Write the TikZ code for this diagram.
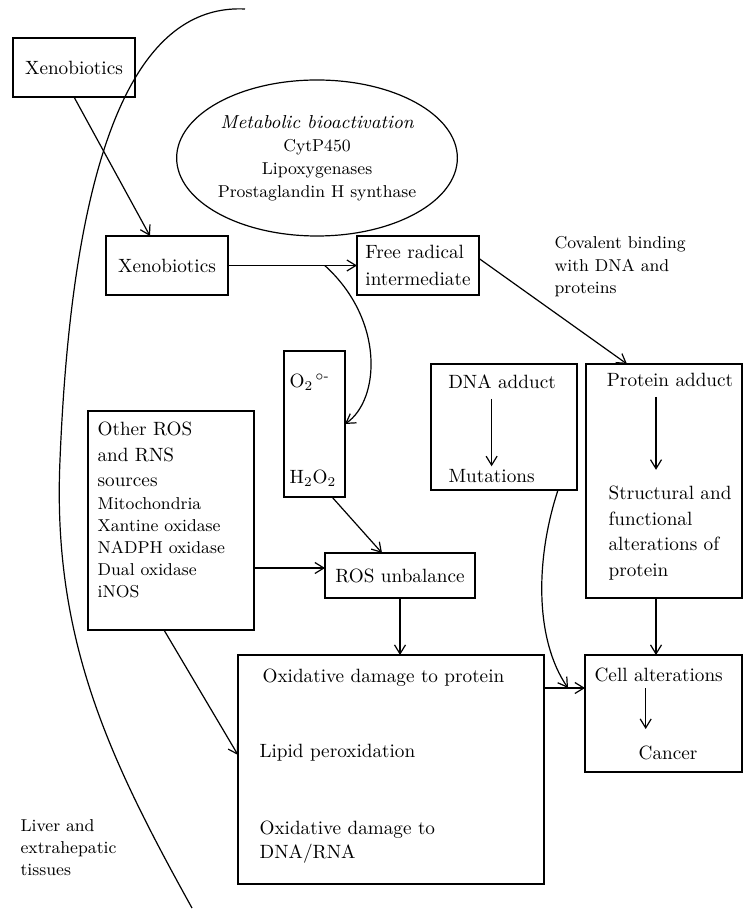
\documentclass[tikz,border=0pt]{standalone}
\usepackage{amsmath}
\usetikzlibrary{arrows.meta,calc,positioning,shapes.geometric}

\begin{document}
\begin{tikzpicture}[x=0.5pt,y=-0.5pt,>={Straight Barb[length=4.5pt,width=5.5pt]},line width=0.6pt,
    box/.style={draw,inner sep=0pt,outer sep=0pt},
    lbl/.style={inner sep=0pt,font=\fontsize{9.6}{12.75}\selectfont},
    small/.style={inner sep=0pt,align=left,font=\fontsize{8.6}{11}\selectfont}]
  \useasboundingbox (0,0) rectangle (743,913);

  % boundary of the organ
  \draw (245,9) .. controls (160,5) and (75,90) .. (60,460)
        .. controls (52,640) and (110,760) .. (192,908);
  \node[small,anchor=north west,font=\fontsize{8.6}{10.9}\selectfont] (liver) at (20,819) {Liver and\\extrahepatic\\tissues};

  % boxes
  \node[box,lbl,minimum width=61pt,minimum height=29.5pt] (xenoout) at (74,67.5) {Xenobiotics};
  \node[box,lbl,minimum width=61pt,minimum height=29.5pt] (xenoin) at (167,265.5) {Xenobiotics};
  \node[box,lbl,align=left,minimum width=61pt,minimum height=29.5pt,font=\fontsize{9.6}{13.5}\selectfont] (radical) at (418,265.5) {Free radical\\intermediate};
  \node[box,ellipse,align=center,minimum width=140pt,minimum height=78pt,font=\fontsize{8.6}{11.5}\selectfont] (bioact) at (317,158)
    {{\fontsize{9.4}{11.5}\selectfont\itshape Metabolic bioactivation}\\CytP450\\Lipoxygenases\\Prostaglandin H synthase};

  \node[box,minimum width=30.5pt,minimum height=73pt] (oxy) at (314.5,424) {};
  \node[lbl,anchor=base west] (superox) at (289,388) {O\textsubscript{2}\textsuperscript{\,$\circ$-}};
  \node[lbl,anchor=base west] (peroxide) at (289,483) {H\textsubscript{2}O\textsubscript{2}};

  \node[box,minimum width=83pt,minimum height=109.5pt] (others) at (171,520.5) {};
  \node[lbl,align=left,anchor=north west] (otherhead) at (97,421.5) {Other ROS\\and RNS\\sources};
  \node[small,anchor=north west] (otherlist) at (97,497) {Mitochondria\\Xantine oxidase\\NADPH oxidase\\Dual oxidase\\iNOS};

  \node[box,lbl,minimum width=75pt,minimum height=22.5pt] (imbalance) at (400,575.5) {ROS unbalance};

  \node[box,minimum width=153pt,minimum height=114.5pt] (damage) at (391,769.5) {};
  \node[lbl,anchor=base west] (dmgprot) at (262,682) {Oxidative damage to protein};
  \node[lbl,anchor=base west] (dmglipid) at (259,757) {Lipid peroxidation};
  \node[lbl,align=left,anchor=north west,font=\fontsize{9.6}{12}\selectfont] (dmgdna) at (259,820.6) {Oxidative damage to\\DNA/RNA};

  \node[box,minimum width=73pt,minimum height=63pt] (dna) at (504,427) {};
  \node[lbl,anchor=base] (dnalbl) at (502,389) {DNA adduct};
  \node[lbl,anchor=base west] (mutlbl) at (448,482) {Mutations};

  \node[box,minimum width=78pt,minimum height=117pt] (protein) at (664,481) {};
  \node[lbl,anchor=base] (protlbl) at (670,387) {Protein adduct};
  \node[lbl,align=left,anchor=north west] (structlbl) at (608,485.6) {Structural and\\functional\\alterations of\\protein};

  \node[box,minimum width=78.5pt,minimum height=58.5pt] (cell) at (663.5,713.5) {};
  \node[lbl,anchor=base west] (celllbl) at (594,681) {Cell alterations};
  \node[lbl,anchor=base] (cancer) at (668,759) {Cancer};

  \node[small,anchor=north west,font=\fontsize{8.6}{11.25}\selectfont] (covalent) at (554,236) {Covalent binding\\with DNA and\\proteins};

  % connectors
  \coordinate (branch) at ($(xenoin.east)!0.75!(radical.west)$);
  \coordinate (rosin) at ($(imbalance.west)+(0,-7.5)$);
  \coordinate (cellin) at ($(cell.west)+(0,-25.5)$);
  \coordinate (join) at ($(damage.east |- cellin)!0.585!(cellin)$);

  \draw[->] (xenoout.south) -- ($(xenoin.north)+(-17,0)$);
  \draw[->] (xenoin.east) -- (radical.west);
  \draw[->] (branch) .. controls (385,320) and (380,400) .. (oxy.east);
  \draw[->] ($(radical.east)+(0,-7)$) -- ($(protein.north)+(-37,0)$);
  \draw[->] ($(oxy.south)+(17.5,0)$) -- ($(imbalance.north)+(-18,0)$);
  \draw[->] (others.east |- rosin) -- (rosin);
  \draw[->] ($(others.south)+(-7,0)$) -- ($(damage.west)+(0,-14.5)$);
  \draw[->] (imbalance.south) -- (imbalance.south |- damage.north);
  \draw[->] (damage.east |- cellin) -- (cellin);
  \draw[->] ($(protein.south)+(-8,0)$) -- ($(cell.north)+(-7.5,0)$);
  \draw[->] ($(dna.south)+(54,0)$) .. controls (535,560) and (535,640) .. (join);

  \draw[->] ($(mutlbl.north |- dnalbl.south)+(0,9)$) -- ($(mutlbl.north)+(0,-2)$);
  \draw[->] ($(protlbl.south)+(-14,9)$) -- ++(0,73);
  \draw[->] ($(celllbl.south)+(-13,6)$) -- ++(0,41);
\end{tikzpicture}
\end{document}
